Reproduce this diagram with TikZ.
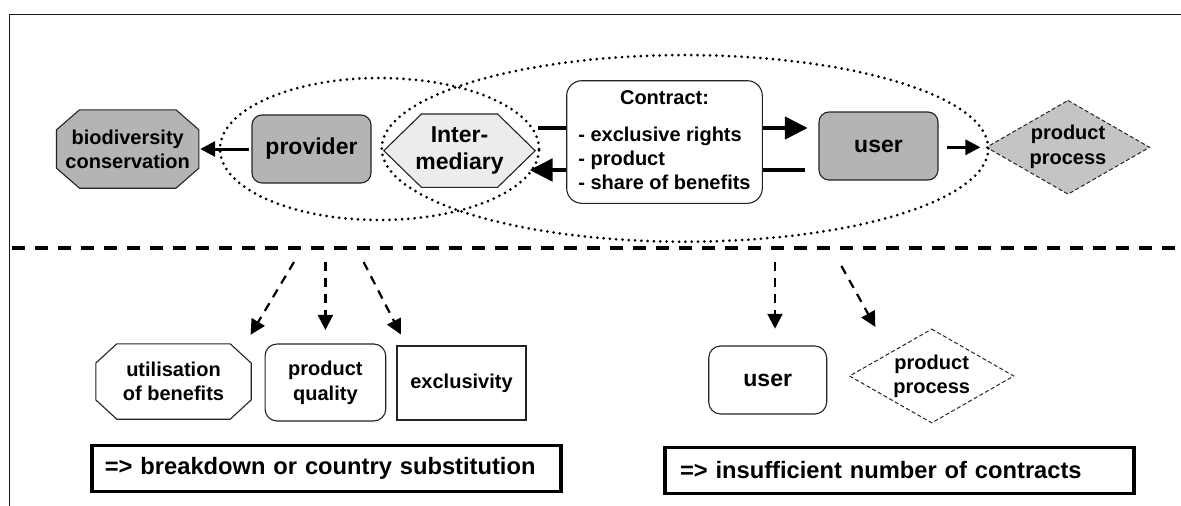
\documentclass[tikz,border=0pt]{standalone}
\usepackage{fontspec}
\setmainfont{Liberation Sans}
\usetikzlibrary{arrows.meta,backgrounds,calc}

\definecolor{boxgray}{RGB}{180,180,180}
\definecolor{stipgray}{RGB}{196,196,196}
\definecolor{stiplight}{RGB}{236,236,236}
\definecolor{edgecol}{RGB}{35,35,35}

\tikzset{
  every node/.style={inner sep=0pt},
  txtA/.style={font=\bfseries\fontsize{20}{24}\selectfont, align=center},
  txtB/.style={font=\bfseries\fontsize{23}{26.5}\selectfont, align=center},
  txtC/.style={font=\bfseries\fontsize{23.7}{28}\selectfont, align=left},
  slot/.style 2 args={minimum width=#1, minimum height=#2},
  shapeedge/.style={draw=edgecol, line width=1.1pt},
  rbox/.style={shapeedge, rounded corners=#1},
  framecol/.style={draw=black!90, line width=1.6pt},
  sepline/.style={line width=4.5pt, dash pattern=on 13pt off 10pt},
  dotline/.style={line width=3pt, line cap=round, dash pattern=on 0pt off 6.3pt},
  heavy/.style={line width=4.7pt},
  bigtip/.style={-{Triangle[length=23pt,width=22pt]}},
  smallarrow/.style={line width=3pt, -{Triangle[length=15pt,width=15pt]}},
  dasharrow/.style={line width=2.2pt, dash pattern=on 9pt off 7pt, -{Triangle[length=15pt,width=15pt]}},
  thindash/.style={draw=edgecol, line width=1pt, dash pattern=on 4pt off 2.5pt},
  resbox/.style={draw=black, line width=3.2pt, inner xsep=#1, inner ysep=0pt},
  octo/.style n args={3}{insert path={([xshift=#2]#1.north west) -- ([xshift=-#2]#1.north east)
      -- ([yshift=-#3]#1.north east) -- ([yshift=#3]#1.south east)
      -- ([xshift=-#2]#1.south east) -- ([xshift=#2]#1.south west)
      -- ([yshift=#3]#1.south west) -- ([yshift=-#3]#1.north west) -- cycle}},
  hexa/.style 2 args={insert path={([xshift=#2]#1.north west) -- ([xshift=-#2]#1.north east)
      -- (#1.east) -- ([xshift=-#2]#1.south east) -- ([xshift=#2]#1.south west)
      -- (#1.west) -- cycle}},
  rhomb/.style={insert path={(#1.north) -- (#1.east) -- (#1.south) -- (#1.west) -- cycle}},
}

\begin{document}
\begin{tikzpicture}[x=1pt,y=-1pt]
\useasboundingbox (0,0) rectangle (1181,506);

% outer frame (top and left edges)
\draw[framecol] (1190,14.5) -- (9.3,14.5) -- (9.3,515);

% --- upper chain ---
\node[txtA, slot={142pt}{78pt}] (bio) at (127.7,149) {biodiversity\\conservation};
\node[txtB, rbox=10pt, fill=boxgray, slot={119pt}{68pt}] (prov) at (311.5,149) {provider};
\node[txtB, slot={151pt}{73pt}] (inter) at (459.5,150.7) {Inter-\\mediary};
\node[txtA, rbox=15pt, fill=white, slot={195.6pt}{122.6pt}] (contract) at (664.5,142)
  {\begin{tabular}{@{}l@{}}\multicolumn{1}{c}{Contract:}\\[12.7pt]
   - exclusive rights\\- product\\- share of benefits\end{tabular}};
\node[txtB, rbox=10pt, fill=boxgray, slot={119pt}{68pt}] (user) at (878.5,146) {user};
\node[txtA, font=\bfseries\fontsize{20}{25}\selectfont, slot={162.7pt}{93.3pt}] (pp) at (1068,147.3) {product\\process};

% --- lower row ---
\node[txtA, font=\bfseries\fontsize{20}{24.5}\selectfont, slot={155pt}{75pt}] (util) at (173.5,381.5) {utilisation\\of benefits};
\node[txtA, font=\bfseries\fontsize{20}{25}\selectfont, rbox=12pt, slot={120.7pt}{77pt}] (pq) at (325.4,382.5) {product\\quality};
\node[txtA, shapeedge, slot={129pt}{74pt}] (excl) at (461.5,383) {exclusivity};
\node[txtB, rbox=12pt, slot={118pt}{68pt}] (user2) at (767.7,380) {user};
\node[txtA, slot={163.8pt}{93.3pt}] (pp2) at (931.7,376) {product\\process};

\node[txtC, resbox=13pt, text width=443pt, minimum height=46pt] (res1) at (326.4,468.8)
  {=> breakdown or country substitution};
\node[txtC, resbox=15pt, text width=439pt, minimum height=45.6pt] (res2) at (899.5,470.5)
  {=> insufficient number of contracts};

% outlines of the polygonal shapes, behind their labels
\begin{scope}[on background layer]
  \filldraw[shapeedge, fill=boxgray, octo={bio}{23pt}{20pt}];
  \filldraw[shapeedge, fill=stiplight, hexa={inter}{37.7pt}];
  \filldraw[thindash, fill=stipgray, rhomb=pp];
  \draw[shapeedge, octo={util}{21pt}{19.3pt}];
  \draw[thindash, rhomb=pp2];
\end{scope}

% groupings
\draw[dotline] (379.5,149) ellipse [x radius=159.5pt, y radius=71pt];
\draw[dotline] (685,148.4) ellipse [x radius=303.3pt, y radius=93.3pt];

% flows of the contract
\coordinate (rowA) at (0,128);
\coordinate (rowB) at (0,170);
\draw[smallarrow, shorten <=2pt, shorten >=1.3pt] (prov.west) -- (bio.east);
\draw[heavy] ($(inter.east |- rowA)+(3,0)$) -- (contract.west |- rowA);
\draw[heavy, bigtip, shorten >=10.7pt] (contract.east |- rowA) -- (user.west |- rowA);
\draw[heavy, shorten <=13pt] (user.west |- rowB) -- (contract.east |- rowB);
\draw[heavy, bigtip] (contract.west |- rowB) -- ($(inter.east |- rowB)+(-5.7,0)$);
\draw[smallarrow, shorten <=8.4pt, shorten >=6pt] (user.east |- pp.west) -- (pp.west);

% separator
\coordinate (sepL) at (11.5,248);
\coordinate (sepR) at (1185,248);
\draw[sepline] (sepL) -- (sepR);

% consequences
\coordinate (s1) at (294,262);
\coordinate (s2) at (325.4,262);
\coordinate (s3) at (363.6,262);
\coordinate (s4) at (775,262);
\coordinate (s5) at (841.4,266);
\draw[dasharrow, shorten >=10.5pt] (s1) -- ([xshift=-6pt]util.north east);
\draw[dasharrow, shorten >=13.5pt] (s2) -- (pq.north);
\draw[dasharrow, shorten >=12.4pt] (s3) -- ([xshift=10pt]excl.north west);
\draw[dasharrow, shorten >=16.7pt] (s4) -- ([xshift=7.3pt]user2.north);
\draw[dasharrow, shorten >=2.6pt] (s5) -- ([xshift=27pt]pp2.north west);
\end{tikzpicture}
\end{document}
